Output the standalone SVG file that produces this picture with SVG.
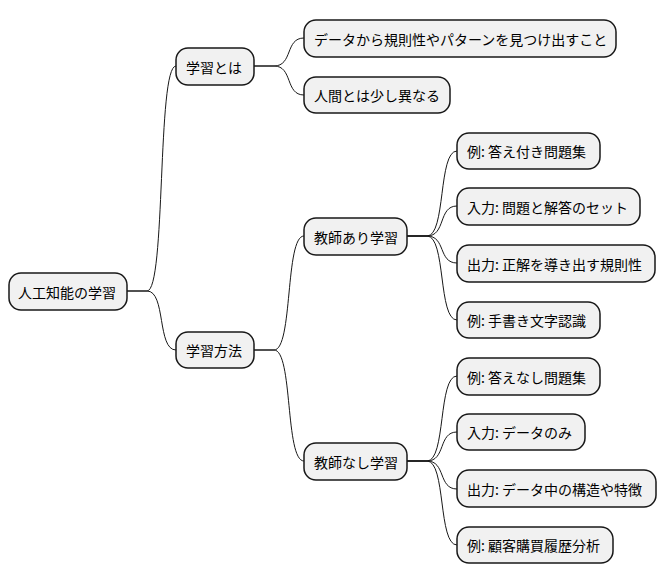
<svg xmlns="http://www.w3.org/2000/svg" width="666" height="583" viewBox="0 0 666 583">
<style>
.n rect{fill:#F1F1F1;stroke:#181818;stroke-width:1.5}
.n text{font-family:"Noto Sans CJK JP","Liberation Sans",sans-serif;font-size:14px;fill:#000;dominant-baseline:central}
#edges path{fill:none;stroke:#181818;stroke-width:1}
</style>
<rect width="666" height="583" fill="#fff"/>
<g id="edges">
<path d="M127,291 L147,291 C166,291 157,66 176,66"/>
<path d="M127,291 L147,291 C166,291 157,350 176,350"/>
<path d="M254,66 L274,66 C293,66 285,38 304,38"/>
<path d="M254,66 L274,66 C293,66 285,95 304,95"/>
<path d="M254,350 L274,350 C293,350 285,236 304,236"/>
<path d="M254,350 L274,350 C293,350 285,461 304,461"/>
<path d="M407,236 L427,236 C446,236 438,151 457,151"/>
<path d="M407,236 L427,236 C446,236 438,206 457,206"/>
<path d="M407,236 L427,236 C446,236 438,263 457,263"/>
<path d="M407,236 L427,236 C446,236 438,320 457,320"/>
<path d="M407,461 L427,461 C446,461 438,376 457,376"/>
<path d="M407,461 L427,461 C446,461 438,432 457,432"/>
<path d="M407,461 L427,461 C446,461 438,489 457,489"/>
<path d="M407,461 L427,461 C446,461 438,545 457,545"/>
</g>
<g id="root" class="n"><rect x="9" y="273" width="118" height="37" rx="12"/><text x="18" y="291.5">人工知能の学習</text></g>
<g id="n1" class="n"><rect x="176" y="48" width="78" height="37" rx="12"/><text x="186" y="66.5">学習とは</text></g>
<g id="n11" class="n"><rect x="304" y="20" width="312" height="37" rx="12"/><text x="314" y="38.5">データから規則性やパターンを見つけ出すこと</text></g>
<g id="n12" class="n"><rect x="304" y="77" width="146" height="36" rx="12"/><text x="314" y="95">人間とは少し異なる</text></g>
<g id="n2" class="n"><rect x="176" y="332" width="78" height="36" rx="12"/><text x="186" y="350">学習方法</text></g>
<g id="n21" class="n"><rect x="304" y="218" width="103" height="37" rx="12"/><text x="314" y="236.5">教師あり学習</text></g>
<g id="n22" class="n"><rect x="304" y="443" width="103" height="37" rx="12"/><text x="314" y="461.5">教師なし学習</text></g>
<g id="l1" class="n"><rect x="457" y="133" width="143" height="36" rx="12"/><text x="467" y="151">例: 答え付き問題集</text></g>
<g id="l2" class="n"><rect x="457" y="188" width="183" height="37" rx="12"/><text x="467" y="206.5">入力: 問題と解答のセット</text></g>
<g id="l3" class="n"><rect x="457" y="245" width="198" height="37" rx="12"/><text x="467" y="263.5">出力: 正解を導き出す規則性</text></g>
<g id="l4" class="n"><rect x="457" y="302" width="143" height="36" rx="12"/><text x="467" y="320">例: 手書き文字認識</text></g>
<g id="l5" class="n"><rect x="457" y="358" width="143" height="37" rx="12"/><text x="467" y="376.5">例: 答えなし問題集</text></g>
<g id="l6" class="n"><rect x="457" y="414" width="128" height="36" rx="12"/><text x="467" y="432">入力: データのみ</text></g>
<g id="l7" class="n"><rect x="457" y="470" width="199" height="37" rx="12"/><text x="467" y="488.5">出力: データ中の構造や特徴</text></g>
<g id="l8" class="n"><rect x="457" y="527" width="156" height="36" rx="12"/><text x="467" y="545">例: 顧客購買履歴分析</text></g>
</svg>
